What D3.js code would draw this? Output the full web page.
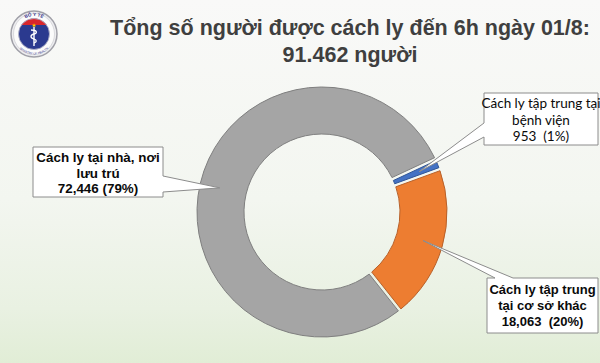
<!DOCTYPE html>
<html>
<head>
<meta charset="utf-8">
<script src="https://cdn.jsdelivr.net/npm/d3@7"></script>
<style>
  html, body { margin: 0; padding: 0; }
  svg { display: block; font-family: "Liberation Sans", Arial, sans-serif; }
  .callout text { white-space: pre; }
</style>
</head>
<body>
<svg id="donutChart" width="600" height="363"></svg>
<script>
// data
var titleLines = ["Tổng số người được cách ly đến 6h ngày 01/8:", "91.462 người"];
var categories = ["Cách ly tập trung tại bệnh viện", "Cách ly tập trung tại cơ sở khác", "Cách ly tại nhà, nơi lưu trú"];
var values = [953, 18063, 72446];
var valueLabels = ["953  (1%)", "18,063  (20%)", "72,446 (79%)"];
var labelLines = [
    ["Cách ly tập trung tại", "bệnh viện"],
    ["Cách ly tập trung", "tại cơ sở khác"],
    ["Cách ly tại nhà, nơi", "lưu trú"]
];

var colors = ["#4472c4", "#ed7d31", "#a5a5a5"],
    strokes = ["#2f5597", "#b8612a", "#7f7f7f"];

var svg = d3.select("svg#donutChart"),
    width = 600,
    height = 363,
    cx = 322,
    cy = 212,
    outerR = 125,
    innerR = 78;

// background
var defs = svg.append("defs");
var bg = defs.append("linearGradient")
    .attr("id", "bgGrad")
    .attr("x1", 0).attr("y1", 0).attr("x2", 0).attr("y2", 1);
bg.append("stop").attr("offset", "0%").attr("stop-color", "#f9f9f8");
bg.append("stop").attr("offset", "55%").attr("stop-color", "#f3f6f0");
bg.append("stop").attr("offset", "85%").attr("stop-color", "#e9f1e2");
bg.append("stop").attr("offset", "100%").attr("stop-color", "#e1edd6");

svg.append("rect")
    .attr("width", width)
    .attr("height", height)
    .attr("fill", "url(#bgGrad)");

// logo (Bo Y te)
var logo = svg.append("g").attr("transform", "translate(34,34)");
logo.append("circle").attr("r", 23).attr("fill", "#ececef").attr("stroke", "#a0a0a8").attr("stroke-width", 1.5);
logo.append("circle").attr("r", 20.5).attr("fill", "#fbfbfb").attr("stroke", "#c8c8cc").attr("stroke-width", 0.6);
defs.append("path").attr("id", "logoTop").attr("d", "M-18,0 A18,18 0 0,1 18,0");
defs.append("path").attr("id", "logoBot").attr("d", "M-20.5,0 A20.5,20.5 0 0,0 20.5,0");
logo.append("text").attr("font-size", 4.6).attr("font-weight", "bold").attr("fill", "#30308a")
    .append("textPath").attr("href", "#logoTop").attr("startOffset", "50%").attr("text-anchor", "middle").text("BỘ Y TẾ");
logo.append("text").attr("font-size", 3).attr("fill", "#30308a")
    .append("textPath").attr("href", "#logoBot").attr("startOffset", "50%").attr("text-anchor", "middle").text("MINISTRY OF HEALTH");
defs.append("clipPath").attr("id", "logoClip").append("circle").attr("r", 15.5);
logo.append("circle").attr("r", 15.5).attr("fill", "#2b3a8f");
logo.append("rect").attr("x", -16).attr("y", -16).attr("width", 32).attr("height", 7)
    .attr("fill", "#d9262c").attr("clip-path", "url(#logoClip)");
logo.append("circle").attr("r", 15.5).attr("fill", "none").attr("stroke", "#b8b8c8").attr("stroke-width", 0.8);
logo.append("path").attr("d", "M0,-11.5 l0.9,2 2.1,0.1 -1.6,1.3 0.6,2 -1.9,-1.2 -1.9,1.2 0.6,-2 -1.6,-1.3 2.1,-0.1z")
    .attr("fill", "#ffd200").attr("transform", "scale(0.75) translate(0,-3)");
logo.append("line").attr("x1", 0).attr("y1", -7).attr("x2", 0).attr("y2", 12)
    .attr("stroke", "#ffffff").attr("stroke-width", 1.4);
logo.append("path").attr("d", "M-3,-4 C3,-4 4,-1 0,0 C-4,1 -4,4 0,5 C3,6 3,8 0,9")
    .attr("fill", "none").attr("stroke", "#ffffff").attr("stroke-width", 1.3);

// title
svg.append("g").selectAll("text")
    .data(titleLines)
    .enter()
    .append("text")
    .attr("x", 350)
    .attr("y", function (d, i) { return 35 + i * 27; })
    .attr("text-anchor", "middle")
    .attr("font-size", "21.5px")
    .attr("font-weight", "bold")
    .attr("fill", "#3f3f3f")
    .text(function (d) { return d; });

// donut
var data = categories.map(function (c, i) {
    return { name: c, value: values[i], color: colors[i], stroke: strokes[i], lines: labelLines[i].concat([valueLabels[i]]) };
});

var startA = 65 * Math.PI / 180;
var pie = d3.pie()
    .sort(null)
    .value(function (d) { return d.value; })
    .startAngle(startA)
    .endAngle(startA + 2 * Math.PI)
    .padAngle(0.022);

var arc = d3.arc().innerRadius(innerR).outerRadius(outerR);
var tipArc = d3.arc().innerRadius(105).outerRadius(105);

var arcs = pie(data);

var g = svg.append("g").attr("transform", "translate(" + cx + "," + cy + ")");

g.selectAll(".slice")
    .data(arcs)
    .enter()
    .append("path")
    .attr("class", "slice")
    .attr("d", arc)
    .attr("fill", function (d) { return d.data.color; })
    .attr("stroke", function (d) { return d.data.stroke; })
    .attr("stroke-width", 1);

// callout boxes
var boxes = [
    { x: 484, y: 93, w: 114, h: 52, side: "left", b0: 30, b1: 44, font: "Lato, 'Liberation Sans', sans-serif", size: 13.5, weight: "normal", lh: 16.5, y0: 15 },
    { x: 487, y: 278, w: 111, h: 55, side: "top", b0: 8, b1: 26, font: "'Liberation Sans', Arial, sans-serif", size: 13, weight: "bold", lh: 16, y0: 16 },
    { x: 33, y: 147, w: 130, h: 50, side: "right", b0: 29, b1: 45, font: "'Liberation Sans', Arial, sans-serif", size: 13.4, weight: "bold", lh: 15.5, y0: 15 }
];

function calloutPath(b, tip) {
    var x0 = b.x, y0 = b.y, x1 = b.x + b.w, y1 = b.y + b.h;
    if (b.side === "right") {
        return "M" + x0 + "," + y0 + "L" + x1 + "," + y0 + "L" + x1 + "," + (y0 + b.b0) +
            "L" + tip[0] + "," + tip[1] + "L" + x1 + "," + (y0 + b.b1) + "L" + x1 + "," + y1 +
            "L" + x0 + "," + y1 + "Z";
    }
    if (b.side === "left") {
        return "M" + x0 + "," + y0 + "L" + x1 + "," + y0 + "L" + x1 + "," + y1 + "L" + x0 + "," + y1 +
            "L" + x0 + "," + (y0 + b.b1) + "L" + tip[0] + "," + tip[1] + "L" + x0 + "," + (y0 + b.b0) + "Z";
    }
    // top
    return "M" + x0 + "," + y0 + "L" + (x0 + b.b0) + "," + y0 + "L" + tip[0] + "," + tip[1] +
        "L" + (x0 + b.b1) + "," + y0 + "L" + x1 + "," + y0 + "L" + x1 + "," + y1 + "L" + x0 + "," + y1 + "Z";
}

var labels = svg.append("g").selectAll(".callout")
    .data(arcs)
    .enter()
    .append("g")
    .attr("class", "callout");

labels.append("path")
    .attr("d", function (d, i) {
        var c = tipArc.centroid(d);
        return calloutPath(boxes[i], [cx + c[0], cy + c[1]]);
    })
    .attr("fill", "#ffffff")
    .attr("stroke", "#8c8c8c")
    .attr("stroke-width", 1);

labels.each(function (d, i) {
    var b = boxes[i];
    var t = d3.select(this).append("text")
        .attr("text-anchor", "middle")
        .attr("font-family", b.font)
        .attr("font-size", b.size + "px")
        .attr("font-weight", b.weight)
        .attr("fill", "#0a0a0a");
    t.selectAll("tspan")
        .data(d.data.lines)
        .enter()
        .append("tspan")
        .attr("x", b.x + b.w / 2)
        .attr("y", function (l, j) { return b.y + b.y0 + j * b.lh; })
        .text(function (l) { return l; });
});
</script>
</body>
</html>
